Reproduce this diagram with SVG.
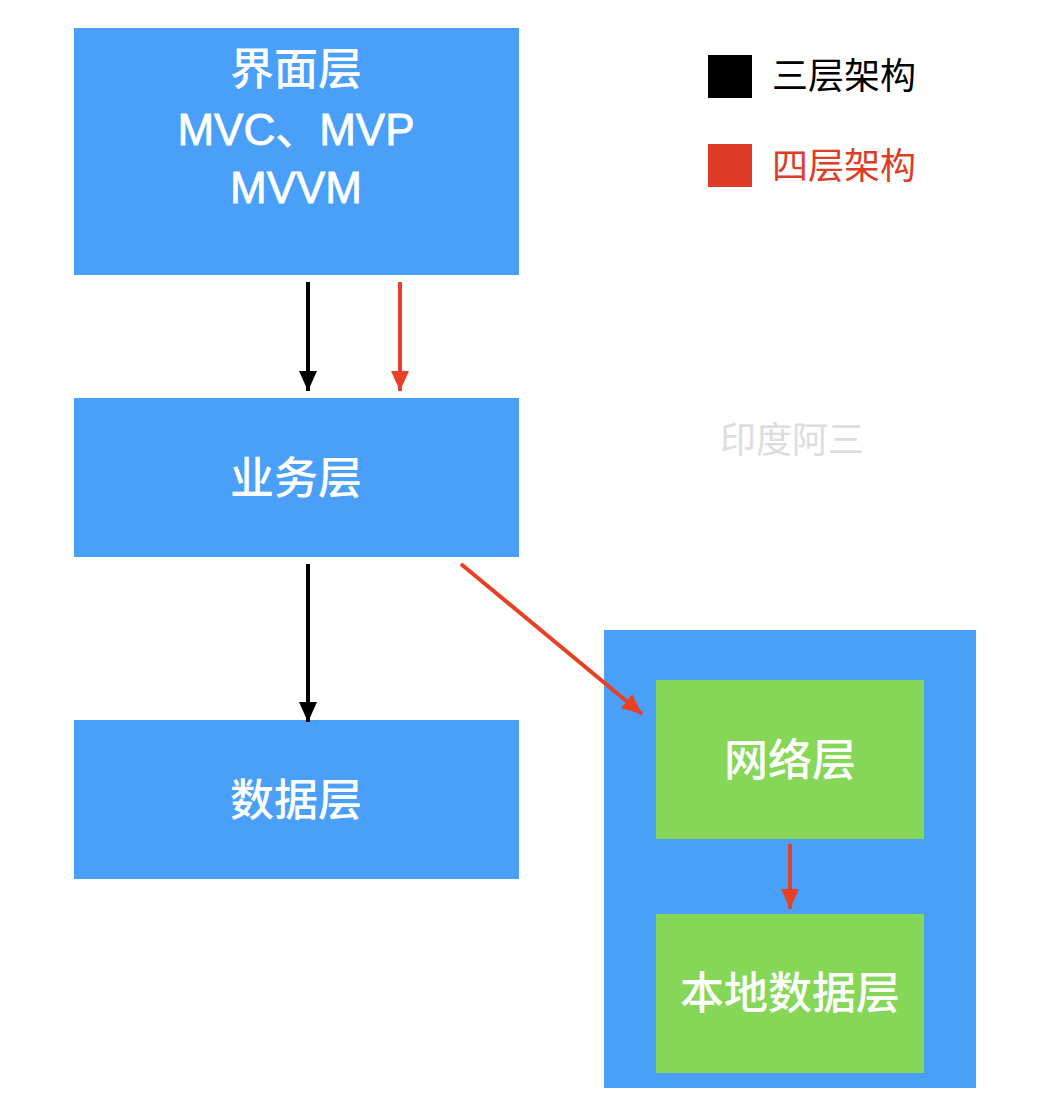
<svg xmlns="http://www.w3.org/2000/svg" width="1052" height="1120" viewBox="0 0 1052 1120">
<style>
.blue{fill:#4AA0F8}
.green{fill:#86D657}
.lbl{font-family:"Noto Sans CJK SC","Noto Sans",sans-serif;font-size:44px;fill:#fff;font-weight:500;text-anchor:middle}
.lat{font-family:"Liberation Sans","Noto Sans CJK SC",sans-serif;font-size:44px;fill:#fff;stroke:#fff;stroke-width:0.8;text-anchor:middle}
.leg{font-family:"Noto Sans CJK SC","Noto Sans",sans-serif;font-size:36px}
.blk{stroke:#000;stroke-width:4;fill:none}
.red{stroke:#E84025;stroke-width:4;fill:none}
</style>
<defs>
<marker id="ab" viewBox="0 0 20 18" refX="20" refY="9" markerWidth="20" markerHeight="18" markerUnits="userSpaceOnUse" orient="auto"><path d="M0,0 L20,9 L0,18 Z" fill="#000"/></marker>
<marker id="ar" viewBox="0 0 20 18" refX="20" refY="9" markerWidth="20" markerHeight="18" markerUnits="userSpaceOnUse" orient="auto"><path d="M0,0 L20,9 L0,18 Z" fill="#E84025"/></marker>
</defs>
<rect width="1052" height="1120" fill="#fff"/>
<g id="ui"><rect class="blue" x="74" y="28" width="445" height="247"/>
<text class="lbl" x="296" y="85">界面层</text>
<text class="lat" x="296" y="145">MVC、MVP</text>
<text class="lat" x="296" y="203">MVVM</text></g>
<g id="biz"><rect class="blue" x="74" y="398" width="445" height="159"/><text class="lbl" x="296" y="494">业务层</text></g>
<g id="data"><rect class="blue" x="74" y="720" width="445" height="159"/><text class="lbl" x="296" y="816">数据层</text></g>
<g id="container"><rect class="blue" x="604" y="630" width="372" height="458"/></g>
<g id="net"><rect class="green" x="656" y="680" width="268" height="159"/><text class="lbl" x="790" y="776">网络层</text></g>
<g id="local"><rect class="green" x="656" y="914" width="268" height="159"/><text class="lbl" x="790" y="1009">本地数据层</text></g>
<g id="legend">
<rect x="708" y="55" width="44" height="43" fill="#000"/>
<text class="leg" x="772" y="89" fill="#000">三层架构</text>
<rect x="708" y="144" width="44" height="43" fill="#DD3C26"/>
<text class="leg" x="772" y="179" fill="#DD3C26">四层架构</text>
</g>
<g id="watermark"><text class="leg" x="720" y="453" font-size="35" fill="#DDDDDD">印度阿三</text></g>
<g id="connectors">
<line class="blk" x1="308" y1="282" x2="308" y2="391" marker-end="url(#ab)"/>
<line class="red" x1="400" y1="282" x2="400" y2="391" marker-end="url(#ar)"/>
<line class="blk" x1="308" y1="564" x2="308" y2="722" marker-end="url(#ab)"/>
<line class="red" x1="461" y1="564" x2="642" y2="714" marker-end="url(#ar)"/>
<line class="red" x1="790" y1="844" x2="790" y2="909" marker-end="url(#ar)"/>
</g>
</svg>
